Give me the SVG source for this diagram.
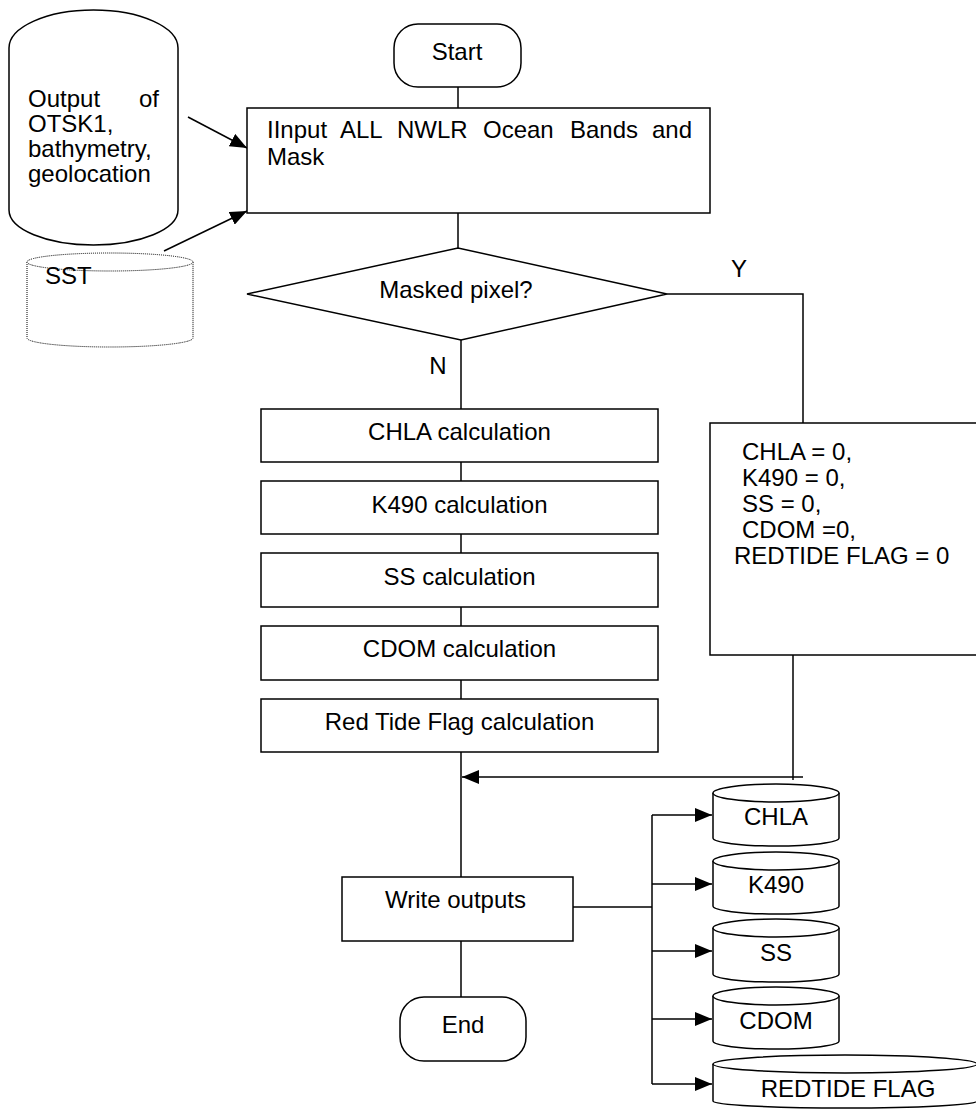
<svg xmlns="http://www.w3.org/2000/svg" width="976" height="1111" viewBox="0 0 976 1111">
<style>
.s{fill:#fff;stroke:#000;stroke-width:1.5}
.d{fill:#fff;stroke:#000;stroke-width:1;stroke-dasharray:1 1}
.c{fill:none;stroke:#000;stroke-width:1.5}
text{font-family:"Liberation Sans",Arial,sans-serif;font-size:24px;fill:#000}
.m{text-anchor:middle}
.e{text-anchor:end}
</style>
<defs>
<marker id="ah" viewBox="0 0 17 14" refX="17" refY="7" markerWidth="17" markerHeight="14" markerUnits="userSpaceOnUse" orient="auto">
<path d="M0,0 L17,7 L0,14 z" fill="#000"/>
</marker>
</defs>
<rect width="976" height="1111" fill="#fff"/>

<g id="connectors">
<line class="c" x1="458" y1="87" x2="458" y2="108"/>
<line class="c" x1="458" y1="213" x2="458" y2="248"/>
<line class="c" x1="188" y1="117" x2="247" y2="148" marker-end="url(#ah)"/>
<line class="c" x1="164" y1="251" x2="247" y2="211" marker-end="url(#ah)"/>
<line class="c" x1="461" y1="340" x2="461" y2="409"/>
<polyline class="c" points="667,294 803,294 803,423"/>
<line class="c" x1="461" y1="462" x2="461" y2="481"/>
<line class="c" x1="461" y1="534" x2="461" y2="553"/>
<line class="c" x1="461" y1="607" x2="461" y2="626"/>
<line class="c" x1="461" y1="680" x2="461" y2="699"/>
<line class="c" x1="461" y1="752" x2="461" y2="877"/>
<line class="c" x1="793" y1="655" x2="793" y2="780"/>
<line class="c" x1="803" y1="777" x2="462" y2="777" marker-end="url(#ah)"/>
<line class="c" x1="461" y1="941" x2="461" y2="997"/>
<line class="c" x1="573" y1="907" x2="652" y2="907"/>
<line class="c" x1="652" y1="815" x2="652" y2="1084"/>
<line class="c" x1="652" y1="815" x2="712" y2="815" marker-end="url(#ah)"/>
<line class="c" x1="652" y1="884" x2="712" y2="884" marker-end="url(#ah)"/>
<line class="c" x1="652" y1="951" x2="712" y2="951" marker-end="url(#ah)"/>
<line class="c" x1="652" y1="1019" x2="712" y2="1019" marker-end="url(#ah)"/>
<line class="c" x1="652" y1="1084" x2="712" y2="1084" marker-end="url(#ah)"/>
<text x="739" y="277" class="m">Y</text>
<text x="438" y="374" class="m">N</text>
</g>

<g id="input-db">
<path class="s" d="M9,48 A84.5,38 0 0 1 178,48 L178,210 A84.5,35 0 0 1 9,210 Z"/>
<text x="28" y="107">Output</text>
<text x="159" y="107" class="e">of</text>
<text x="28" y="132">OTSK1,</text>
<text x="28" y="157">bathymetry,</text>
<text x="28" y="182">geolocation</text>
</g>

<g id="sst-db">
<path class="d" d="M27,262 L27,338 A83,9 0 0 0 193,338 L193,262"/>
<ellipse class="d" cx="110" cy="262" rx="83" ry="9"/>
<text x="45" y="284">SST</text>
</g>

<g id="start">
<rect class="s" x="394" y="24" width="127" height="63" rx="24" ry="24"/>
<text x="457" y="60" class="m">Start</text>
</g>

<g id="input">
<rect class="s" x="247" y="108" width="463" height="105"/>
<text x="267" y="138">IInput</text>
<text x="340" y="138">ALL</text>
<text x="397" y="138">NWLR</text>
<text x="483" y="138">Ocean</text>
<text x="570" y="138">Bands</text>
<text x="692" y="138" class="e">and</text>
<text x="267" y="165">Mask</text>
</g>

<g id="decision">
<polygon class="s" points="247,294 458,248 667,294 461,340"/>
<text x="456" y="298" class="m">Masked pixel?</text>
</g>

<g id="chla-calc">
<rect class="s" x="261" y="409" width="397" height="53"/>
<text x="459.5" y="440" class="m">CHLA calculation</text>
</g>
<g id="k490-calc">
<rect class="s" x="261" y="481" width="397" height="53"/>
<text x="459.5" y="513" class="m">K490 calculation</text>
</g>
<g id="ss-calc">
<rect class="s" x="261" y="553" width="397" height="54"/>
<text x="459.5" y="585" class="m">SS calculation</text>
</g>
<g id="cdom-calc">
<rect class="s" x="261" y="626" width="397" height="54"/>
<text x="459.5" y="657" class="m">CDOM calculation</text>
</g>
<g id="redtide-calc">
<rect class="s" x="261" y="699" width="397" height="53"/>
<text x="459.5" y="730" class="m">Red Tide Flag calculation</text>
</g>

<g id="masked-values">
<rect class="s" x="710" y="423" width="268" height="232"/>
<text x="742" y="460">CHLA = 0,</text>
<text x="742" y="486">K490 = 0,</text>
<text x="742" y="512">SS = 0,</text>
<text x="742" y="538">CDOM =0,</text>
<text x="734" y="564">REDTIDE FLAG = 0</text>
</g>

<g id="write">
<rect class="s" x="342" y="877" width="231" height="64"/>
<text x="385" y="908">Write outputs</text>
</g>

<g id="end">
<rect class="s" x="400" y="997" width="126" height="64" rx="24" ry="24"/>
<text x="463" y="1033" class="m">End</text>
</g>

<g id="out-chla">
<path class="s" d="M713,793 L713,838 A63,8 0 0 0 839,838 L839,793"/>
<ellipse class="s" cx="776" cy="793" rx="63" ry="9"/>
<text x="776" y="825" class="m">CHLA</text>
</g>
<g id="out-k490">
<path class="s" d="M713,861 L713,906 A63,8 0 0 0 839,906 L839,861"/>
<ellipse class="s" cx="776" cy="861" rx="63" ry="9"/>
<text x="776" y="893" class="m">K490</text>
</g>
<g id="out-ss">
<path class="s" d="M713,928 L713,974 A63,8 0 0 0 839,974 L839,928"/>
<ellipse class="s" cx="776" cy="928" rx="63" ry="9"/>
<text x="776" y="961" class="m">SS</text>
</g>
<g id="out-cdom">
<path class="s" d="M713,996 L713,1041 A63,8 0 0 0 839,1041 L839,996"/>
<ellipse class="s" cx="776" cy="996" rx="63" ry="9"/>
<text x="776" y="1029" class="m">CDOM</text>
</g>
<g id="out-redtide">
<path class="s" d="M713,1064 L713,1101 A132,7 0 0 0 977,1101 L977,1064"/>
<ellipse class="s" cx="845" cy="1064" rx="132" ry="9"/>
<text x="848" y="1097" class="m">REDTIDE FLAG</text>
</g>
</svg>
